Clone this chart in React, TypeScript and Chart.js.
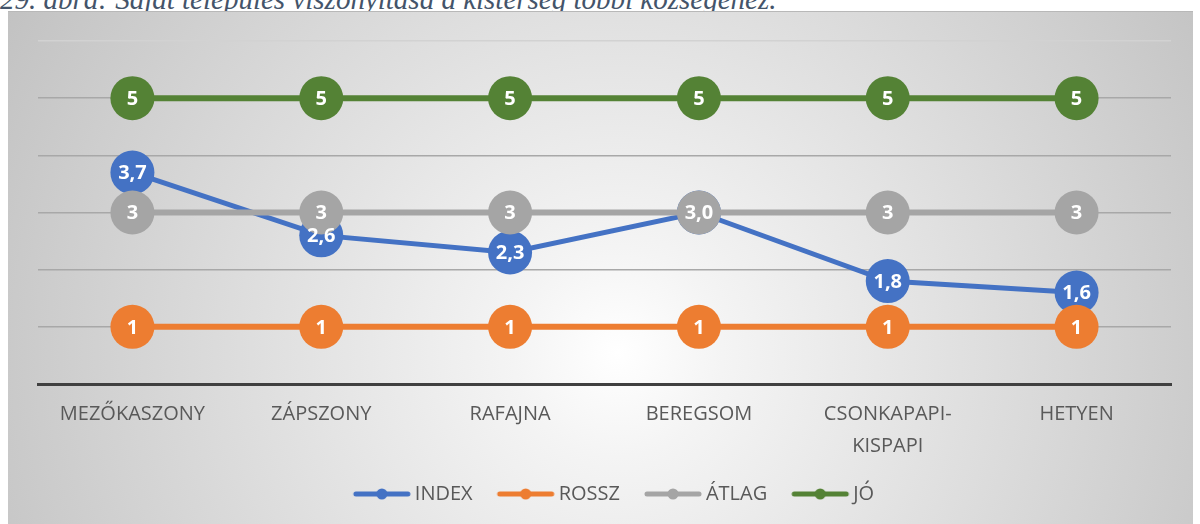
import React, { useEffect, useRef } from "react";
import { Chart, registerables } from "chart.js";

Chart.register(...registerables);

const categories: (string | string[])[] = [
  "MEZŐKASZONY",
  "ZÁPSZONY",
  "RAFAJNA",
  "BEREGSOM",
  ["CSONKAPAPI-", "KISPAPI"],
  "HETYEN",
];
const indexValues = [3.7, 2.6, 2.3, 3.0, 1.8, 1.6];
const rosszValues = [1, 1, 1, 1, 1, 1];
const atlagValues = [3, 3, 3, 3, 3, 3];
const joValues = [5, 5, 5, 5, 5, 5];
const seriesNames = ["INDEX", "ROSSZ", "ÁTLAG", "JÓ"];
const seriesColors = ["#4472C4", "#ED7D31", "#A5A5A5", "#548235"];
const yMin = 0;
const yMax = 6;
const caption = "29. ábra: Saját település viszonyítása a kistérség többi községéhez.";

const FONT = "'Open Sans', 'Noto Sans', sans-serif";

function legendMarker(color: string): HTMLCanvasElement {
  const c = document.createElement("canvas");
  c.width = 60;
  c.height = 14;
  const g = c.getContext("2d")!;
  g.strokeStyle = color;
  g.lineWidth = 5;
  g.lineCap = "round";
  g.beginPath();
  g.moveTo(4, 7);
  g.lineTo(56, 7);
  g.stroke();
  g.fillStyle = color;
  g.beginPath();
  g.arc(30, 7, 5.5, 0, Math.PI * 2);
  g.fill();
  return c;
}

const fmt = (v: number, decimals: number) => v.toFixed(decimals).replace(".", ",");

const dataLabelPlugin = {
  id: "dataLabels",
  afterLayout(chart: any) {
    if (chart.legend) {
      chart.legend.left += 7;
      chart.legend.right += 7;
    }
  },
  afterDatasetsDraw(chart: any) {
    const ctx = chart.ctx;
    // label drawing order: ROSSZ, ÁTLAG, JÓ, INDEX (INDEX labels on top)
    const order = [1, 2, 3, 0];
    const items: { x: number; y: number; text: string }[] = [];
    order.forEach((di) => {
      const ds = chart.data.datasets[di];
      const meta = chart.getDatasetMeta(di);
      const dec = ds.labelDecimals || 0;
      meta.data.forEach((pt: any, i: number) => {
        items.push({ x: pt.x, y: pt.y, text: fmt(ds.data[i], dec) });
      });
    });
    ctx.save();
    ctx.fillStyle = "#ffffff";
    ctx.font = `bold 20px ${FONT}`;
    ctx.textAlign = "center";
    ctx.textBaseline = "middle";
    items.forEach((it, k) => {
      const covered = items
        .slice(k + 1)
        .some((o) => Math.abs(o.x - it.x) < 3 && Math.abs(o.y - it.y) < 3);
      if (!covered) ctx.fillText(it.text, it.x, it.y + 1);
    });
    ctx.restore();
  },
};

export default function App() {
  const ref = useRef<HTMLCanvasElement>(null);
  useEffect(() => {
    if (!ref.current) return;
    const values = [indexValues, rosszValues, atlagValues, joValues];
    const chart = new Chart(ref.current, {
      type: "line",
      data: {
        labels: categories as any,
        datasets: values.map((d, i) => ({
          label: seriesNames[i],
          data: d,
          borderColor: seriesColors[i],
          backgroundColor: seriesColors[i],
          pointBackgroundColor: seriesColors[i],
          pointBorderWidth: 0,
          pointRadius: 22,
          pointHoverRadius: 22,
          borderWidth: i === 0 ? 5 : 6,
          tension: 0,
          order: 4 - i,
          labelDecimals: i === 0 ? 1 : 0,
        })) as any,
      },
      options: {
        animation: false,
        responsive: false,
        events: [],
        layout: { padding: { left: 30, right: 12, top: 30, bottom: 10 } },
        scales: {
          x: {
            offset: true,
            grid: { display: false, drawTicks: false },
            border: { display: true, color: "#404040", width: 3 },
            ticks: {
              color: "#595959",
              font: { family: FONT, size: 20, lineHeight: 1.6 },
              padding: 14,
              maxRotation: 0,
              autoSkip: false,
            },
            afterFit: (s: any) => {
              s.height = s.height - 22;
            },
          },
          y: {
            min: yMin,
            max: yMax,
            ticks: { display: false, stepSize: 1 },
            border: { display: false },
            grid: {
              drawTicks: false,
              lineWidth: 1.5,
              color: (c: any) =>
                c.tick && c.tick.value === 0
                  ? "rgba(0,0,0,0)"
                  : c.tick && c.tick.value === 6
                  ? "#d2d2d2"
                  : "#a8a8a8",
            },
          },
        },
        plugins: {
          tooltip: { enabled: false },
          legend: {
            position: "bottom",
            labels: {
              usePointStyle: true,
              pointStyleWidth: 46,
              boxHeight: 12,
              padding: 30,
              color: "#595959",
              font: { family: FONT, size: 20 },
              sort: (a: any, b: any) => a.datasetIndex - b.datasetIndex,
              generateLabels: (ch: any) => {
                const base = Chart.defaults.plugins.legend.labels.generateLabels(ch);
                return base.map((l: any) => ({
                  ...l,
                  pointStyle: legendMarker(seriesColors[l.datasetIndex]),
                  lineWidth: 0,
                }));
              },
            },
          },
        },
      },
      plugins: [dataLabelPlugin],
    });
    return () => chart.destroy();
  }, []);

  return (
    <div
      style={{
        position: "absolute",
        left: 0,
        top: 0,
        width: 1200,
        height: 524,
        overflow: "hidden",
        background: "#ffffff",
      }}
    >
      <div
        style={{
          position: "absolute",
          left: 0,
          top: -15,
          fontFamily: "'Times New Roman', 'Liberation Serif', Tinos, serif",
          fontStyle: "italic",
          fontSize: 29,
          lineHeight: "29px",
          color: "#44546A",
          whiteSpace: "nowrap",
        }}
      >
        {caption}
      </div>
      <div
        style={{
          position: "absolute",
          left: 8,
          top: 11,
          width: 1185,
          height: 530,
          background:
            "radial-gradient(circle 700px at 610px 340px, #ffffff 0%, #f4f4f4 15%, #c2c2c2 100%)",
          borderTop: "1px solid #b8b8b8",
          boxSizing: "border-box",
        }}
      >
        <canvas
          ref={ref}
          width={1185}
          height={513}
          style={{ position: "absolute", left: 0, top: -1, display: "block" }}
        />
      </div>
    </div>
  );
}
